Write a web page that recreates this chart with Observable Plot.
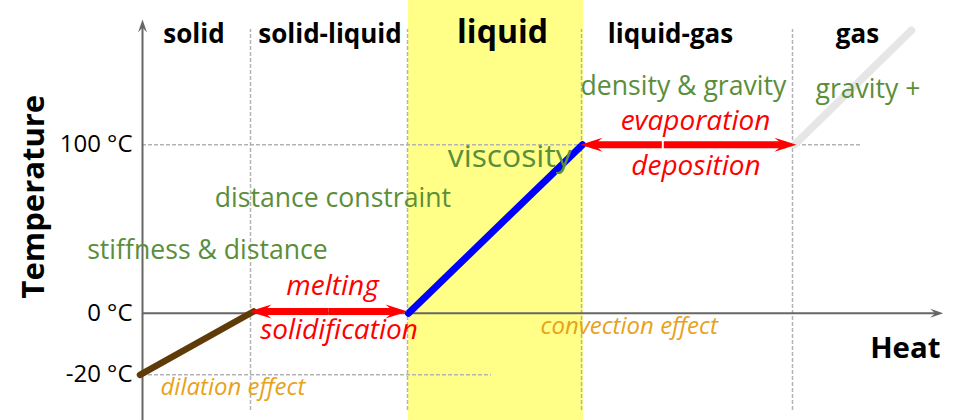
<!DOCTYPE html>
<html><head><meta charset="utf-8">
<script src="https://cdn.jsdelivr.net/npm/d3@7"></script>
<script src="https://cdn.jsdelivr.net/npm/@observablehq/plot@0.6"></script>
<style>body{margin:0;background:#fff;} svg{display:block;}</style>
</head><body><div id="chart"></div>
<script>
// Phase headers
const phases = ["solid", "solid-liquid", "liquid", "liquid-gas", "gas"];
const phaseHeat = [51.5, 187.5, 360, 528, 715];
const phaseBounds = [108, 265, 439, 650];
const liquidBand = [266, 441];
const headerTemp = 160.2;
const frameTemp = [-31.6, 168.5];

// Temperature ticks
const tempTicks = [-20, 0, 100];
const tempTickLabels = ["-20 °C", "0 °C", "100 °C"];
const gridTemps = [100, -20];
const gridEnds = [720, 349];

// Heating curve segments
const solidHeat = [-2.5, 111];
const solidTemp = [-20, 1];
const liquidHeat = [266, 440];
const liquidTemp = [0, 100];
const gasHeat = [652, 769];
const gasTemp = [100, 168];

// Green labels
const effects = ["stiffness & distance", "distance constraint", "viscosity", "density & gravity", "gravity +"];
const effectHeat = [-55.3, 72.3, 305.3, 438, 673];
const effectTemp = [32.3, 62.9, 87.1, 129.3, 127.9];

// Red transition labels
const transitions = ["melting", "solidification", "evaporation", "deposition"];
const transitionHeat = [190, 196.5, 553, 553.5];
const transitionTemp = [11.1, -8.3, 108.5, 82.2];

// Transition arrows (from split point to tip)
const meltFrom = [186, 186];
const meltTo = [107, 265];
const meltTemp = [1, 1];
const evapFrom = [520.3, 520.3];
const evapTo = [438, 654];
const evapTemp = [100, 100];

// Orange notes
const notes = ["dilation effect", "convection effect"];
const noteHeat = [18, 398];
const noteTemp = [-26.7, -6.7];

// Axes
const axisFrom = [[0, -34.8], [0, 0]];
const axisTo = [[0, 174.4], [800.7, 0]];

// Schematic temperature axis: below 0 °C is stretched
const belowZeroStretch = 3.08 / 1.684;

const zip = (a, b) => a.map((v, i) => ({x: v, y: b[i]}));
const segs = (from, to, t) => from.map((f, i) => ({x1: f, x2: to[i], y: t[i], dir: to[i] > f ? 90 : -90}));

const swept = {
  draw(ctx, l, r) {
    ctx.moveTo(0, -l);
    ctx.lineTo(r, 0);
    ctx.lineTo(0, -l * 0.38);
    ctx.lineTo(-r, 0);
    ctx.closePath();
  }
};

const melt = segs(meltFrom, meltTo, meltTemp);
const evap = segs(evapFrom, evapTo, evapTemp);
const axes = axisFrom.map((f, i) => ({x1: f[0], y1: f[1], x2: axisTo[i][0], y2: axisTo[i][1], rot: i === 0 ? 0 : 90}));

const red = "#ff0000";
const green = "#5b8e3a";
const orange = "#e8a21a";
const dash = "#b3b3b3";
const FF = "Open Sans";

const chart = Plot.plot({
  width: 960, height: 420,
  marginLeft: 142, marginRight: 18, marginTop: 0, marginBottom: 0,
  style: {fontFamily: FF, background: "white", overflow: "visible"},
  x: {domain: [0, 800], axis: null},
  y: {transform: t => (t >= 0 ? t : t * belowZeroStretch), domain: [-63.72, 185.69], axis: null},
  marks: [
    Plot.rect([liquidBand], {x1: d => d[0], x2: d => d[1], fill: "#ffff88"}),
    Plot.ruleX(phaseBounds, {x: d => d, y1: frameTemp[0], y2: frameTemp[1], stroke: dash, strokeWidth: 1.5, strokeDasharray: "4,2"}),
    Plot.ruleY(gridTemps, {y: d => d, x1: 0, x2: (d, i) => gridEnds[i], stroke: dash, strokeWidth: 1.5, strokeDasharray: "4,2"}),
    // axes
    Plot.arrow(axes, {x1: "x1", y1: "y1", x2: "x2", y2: "y2", stroke: "#666", strokeWidth: 2, headLength: 0, insetEnd: 5, strokeLinecap: "butt"}),
    Plot.vector(axes, {x: "x2", y: "y2", rotate: "rot", length: 13, r: 4.5, anchor: "end", shape: swept, fill: "#666", stroke: "none"}),
    // heating curve
    Plot.line(zip(gasHeat, gasTemp), {x: "x", y: "y", stroke: "#e6e6e6", strokeWidth: 7.5}),
    Plot.line(zip(solidHeat, solidTemp), {x: "x", y: "y", stroke: "#5e3b08", strokeWidth: 6.5}),
    Plot.line(zip(liquidHeat, liquidTemp), {x: "x", y: "y", stroke: "#0000ff", strokeWidth: 7}),
    // red arrows
    Plot.arrow(melt, {x1: "x1", x2: "x2", y1: "y", y2: "y", stroke: red, strokeWidth: 7, headLength: 0, insetEnd: 11, strokeLinecap: "butt"}),
    Plot.arrow(evap, {x1: "x1", x2: "x2", y1: "y", y2: "y", stroke: red, strokeWidth: 7, headLength: 0, insetEnd: 11, insetStart: 1, strokeLinecap: "butt"}),
    Plot.vector(melt.concat(evap), {x: "x2", y: "y", rotate: "dir", length: 22, r: 7, anchor: "end", shape: swept, fill: red, stroke: "none"}),
    // tick labels
    Plot.text(tempTicks, {x: -10, y: d => d, text: (d, i) => tempTickLabels[i], textAnchor: "end", lineAnchor: "middle", fontSize: 24, fill: "black"}),
    // headers
    Plot.text(phases, {filter: d => d !== "liquid", x: d => phaseHeat[phases.indexOf(d)], y: headerTemp, text: d => d, textAnchor: "middle", lineAnchor: "bottom", fontSize: 26, fontWeight: "bold", fill: "black"}),
    Plot.text(phases, {filter: d => d === "liquid", x: d => phaseHeat[phases.indexOf(d)], y: headerTemp, text: d => d, textAnchor: "middle", lineAnchor: "bottom", fontSize: 32, fontWeight: "bold", fill: "black"}),
    // green
    Plot.text(effects, {filter: d => d !== "viscosity", x: d => effectHeat[effects.indexOf(d)], y: d => effectTemp[effects.indexOf(d)], text: d => d, textAnchor: "start", lineAnchor: "bottom", fontSize: 26.6, fill: green}),
    Plot.text(effects, {filter: d => d === "viscosity", x: d => effectHeat[effects.indexOf(d)], y: d => effectTemp[effects.indexOf(d)], text: d => d, textAnchor: "start", lineAnchor: "bottom", fontSize: 31.8, fill: green}),
    // red
    Plot.text(transitions, {x: (d, i) => transitionHeat[i], y: (d, i) => transitionTemp[i], text: d => d, textAnchor: "middle", lineAnchor: "bottom", fontSize: 28, fontStyle: "italic", fill: red}),
    // orange
    Plot.text(notes, {x: (d, i) => noteHeat[i], y: (d, i) => noteTemp[i], text: d => d, textAnchor: "start", lineAnchor: "bottom", fontSize: 24, fontStyle: "italic", fill: orange}),
    // axis titles
    Plot.text(["Temperature"], {x: -98.7, y: 69.2, text: d => d, rotate: -90, textAnchor: "middle", lineAnchor: "bottom", fontSize: 31, fontWeight: "bold", fill: "black"}),
    Plot.text(["Heat"], {x: 798, y: -14.6, text: d => d, textAnchor: "end", lineAnchor: "bottom", fontSize: 29.4, fontWeight: "bold", fill: "black"})
  ]
});
document.getElementById("chart").appendChild(chart);
</script>
</body></html>
